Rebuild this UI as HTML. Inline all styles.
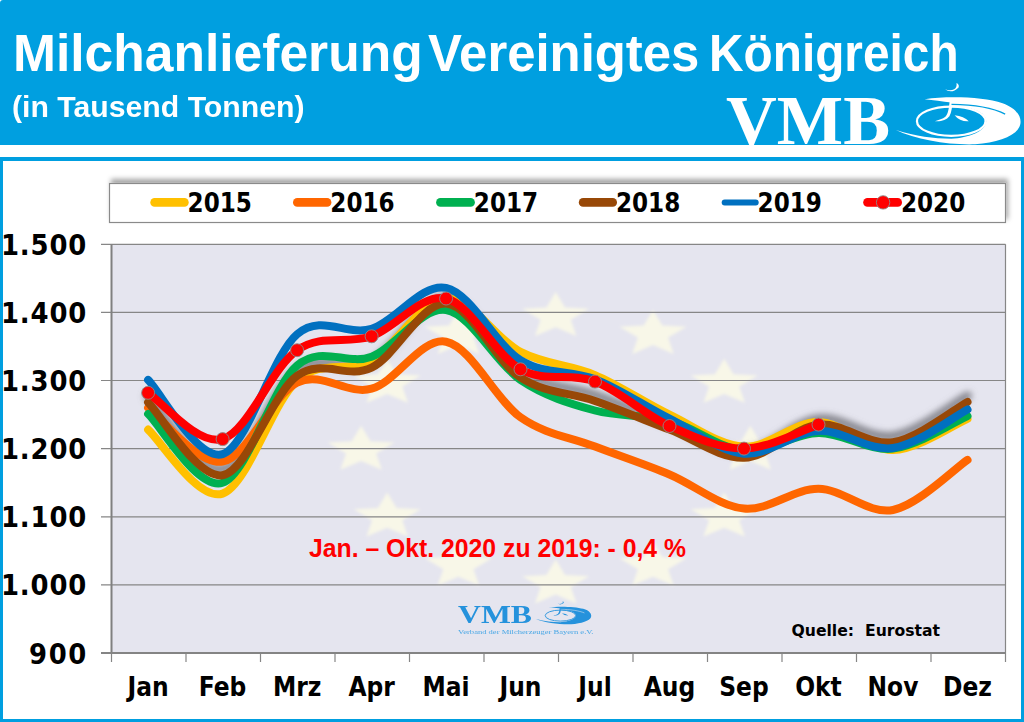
<!DOCTYPE html>
<html><head><meta charset="utf-8"><title>Milchanlieferung Vereinigtes Königreich</title>
<style>
html,body{margin:0;padding:0;}
body{width:1024px;height:722px;overflow:hidden;background:#fff;position:relative;font-family:"Liberation Sans",sans-serif;}
#hdr{position:absolute;left:0;top:0;width:1024px;height:145px;background:#009FE0;border-top-left-radius:3px;}
#t1{position:absolute;left:0;top:23.7px;width:1024px;height:70px;color:#fff;font:bold 51px "Liberation Sans",sans-serif;white-space:nowrap;}
.w{position:absolute;top:0;transform-origin:0 0;}
#t2{position:absolute;left:11.9px;top:91px;transform:scaleX(1.0415);color:#fff;font:bold 29px "Liberation Sans",sans-serif;white-space:nowrap;transform-origin:0 0;}
#vmb{position:absolute;left:726px;top:81.9px;transform:scaleX(1.019);color:#fff;font:bold 69px "Liberation Serif",serif;white-space:nowrap;transform-origin:0 0;}
#frame{position:absolute;left:0;top:157px;width:1018px;height:558px;border:3px solid #009FE0;border-top-width:4px;background:#fff;}
#vmb2{position:absolute;left:457.5px;top:600px;transform:scaleX(1.22);color:#2592DC;font:bold 26px "Liberation Serif",serif;white-space:nowrap;transform-origin:0 0;}
#vmb2s{position:absolute;left:458px;top:627.5px;transform:scaleX(1.22);transform-origin:0 0;color:#4AA8E6;font:7px "Liberation Serif",serif;white-space:nowrap;}
</style></head><body>
<div id="hdr"></div>
<div id="t1"><span class="w" style="left:12.6px;transform:scaleX(1.011)">Milchanlieferung</span> <span class="w" style="left:428.2px;transform:scaleX(0.997)">Vereinigtes</span> <span class="w" style="left:708.6px;transform:scaleX(0.937)">Königreich</span></div>
<div id="t2">(in Tausend Tonnen)</div>
<div id="vmb">VMB</div>
<svg style="position:absolute;left:0;top:0" width="1024" height="146" viewBox="0 0 1024 146">
<g transform="translate(890,78) scale(0.13086)" fill="#fff">
<path d="M420,86 Q470,124 524,72 Q532,50 508,38 Q514,72 490,86 Q460,100 420,86 Z"/>
<path d="M456,176 C450,230 446,272 423,296 C403,313 373,318 343,330 C385,336 432,320 454,292 C472,262 474,220 480,178 Z"/>
<path d="M494,284 Q565,290 602,330 Q533,334 494,284 Z"/>
<path d="M265,162 C450,136 720,146 860,192 C965,228 1012,300 994,360 C972,440 830,494 650,507 C450,514 200,472 45,398 C200,447 330,464 468,464 C600,458 735,405 735,330 C735,262 630,220 470,216 L470,187 C400,178 330,170 265,162 Z"/>
<path d="M470,202 C640,204 790,230 880,276" fill="none" stroke="#009FE0" stroke-width="10"/>
<ellipse cx="468" cy="330" rx="262" ry="112" fill="none" stroke="#fff" stroke-width="17"/>
</g></svg>

<div id="frame"></div>
<svg width="1024" height="722" viewBox="0 0 1024 722" style="position:absolute;left:0;top:0">
<defs>
<filter id="lsh" x="-5%" y="-50%" width="110%" height="200%"><feGaussianBlur in="SourceAlpha" stdDeviation="2.5"/><feOffset dx="2" dy="-4" result="b"/><feFlood flood-color="#000" flood-opacity="0.35"/><feComposite in2="b" operator="in"/><feMerge><feMergeNode/><feMergeNode in="SourceGraphic"/></feMerge></filter>
<filter id="sb"><feGaussianBlur stdDeviation="1.8"/></filter><filter id="sb2" x="-5%" y="-20%" width="110%" height="140%"><feGaussianBlur stdDeviation="3"/></filter></defs>
<rect x="111.5" y="244.3" width="894.0" height="408.7" fill="#E5E5EF"/>
<g fill="#F8F7E8" filter="url(#sb)">
<path d="M555.7,292.0 L565.0,307.5 L589.2,308.8 L570.8,319.7 L576.4,336.0 L555.7,327.2 L535.0,336.0 L540.6,319.7 L522.2,308.8 L546.4,307.5 Z"/>
<path d="M653.0,309.9 L662.3,325.4 L686.5,326.7 L668.1,337.6 L673.7,353.9 L653.0,345.1 L632.3,353.9 L637.9,337.6 L619.5,326.7 L643.7,325.4 Z"/>
<path d="M724.2,358.8 L733.5,374.3 L757.7,375.6 L739.3,386.5 L744.9,402.8 L724.2,394.1 L703.5,402.8 L709.1,386.5 L690.7,375.6 L714.9,374.3 Z"/>
<path d="M750.3,425.7 L759.6,441.2 L783.8,442.5 L765.4,453.4 L771.0,469.7 L750.3,460.9 L729.6,469.7 L735.2,453.4 L716.8,442.5 L741.0,441.2 Z"/>
<path d="M724.2,492.5 L733.5,508.0 L757.7,509.3 L739.3,520.2 L744.9,536.5 L724.2,527.8 L703.5,536.5 L709.1,520.2 L690.7,509.3 L714.9,508.0 Z"/>
<path d="M653.0,541.5 L662.3,556.9 L686.5,558.3 L668.1,569.2 L673.7,585.4 L653.0,576.7 L632.3,585.4 L637.9,569.2 L619.5,558.3 L643.7,556.9 Z"/>
<path d="M555.7,559.4 L565.0,574.9 L589.2,576.2 L570.8,587.1 L576.4,603.4 L555.7,594.6 L535.0,603.4 L540.6,587.1 L522.2,576.2 L546.4,574.9 Z"/>
<path d="M458.4,541.5 L467.7,556.9 L491.9,558.3 L473.5,569.2 L479.1,585.4 L458.4,576.7 L437.7,585.4 L443.3,569.2 L424.9,558.3 L449.1,556.9 Z"/>
<path d="M387.2,492.6 L396.5,508.0 L420.7,509.3 L402.3,520.2 L407.9,536.5 L387.2,527.8 L366.5,536.5 L372.1,520.2 L353.7,509.3 L377.9,508.0 Z"/>
<path d="M361.1,425.7 L370.4,441.2 L394.6,442.5 L376.2,453.4 L381.8,469.7 L361.1,460.9 L340.4,469.7 L346.0,453.4 L327.6,442.5 L351.8,441.2 Z"/>
<path d="M387.2,358.9 L396.5,374.3 L420.7,375.6 L402.3,386.5 L407.9,402.8 L387.2,394.1 L366.5,402.8 L372.1,386.5 L353.7,375.6 L377.9,374.3 Z"/>
<path d="M458.4,309.9 L467.7,325.4 L491.9,326.7 L473.5,337.6 L479.1,353.9 L458.4,345.1 L437.7,353.9 L443.3,337.6 L424.9,326.7 L449.1,325.4 Z"/>
</g>
<g stroke="#868686" stroke-width="1.2">
<line x1="101" y1="653.0" x2="1005.5" y2="653.0"/>
<line x1="101" y1="584.9" x2="1005.5" y2="584.9"/>
<line x1="101" y1="516.8" x2="1005.5" y2="516.8"/>
<line x1="101" y1="448.6" x2="1005.5" y2="448.6"/>
<line x1="101" y1="380.5" x2="1005.5" y2="380.5"/>
<line x1="101" y1="312.4" x2="1005.5" y2="312.4"/>
<line x1="101" y1="244.3" x2="1005.5" y2="244.3"/>
<line x1="1005.5" y1="244.3" x2="1005.5" y2="653.0"/>
</g>
<g stroke="#868686" stroke-width="1.2">
<line x1="111.5" y1="653.0" x2="111.5" y2="662.0"/>
<line x1="186.0" y1="653.0" x2="186.0" y2="662.0"/>
<line x1="260.5" y1="653.0" x2="260.5" y2="662.0"/>
<line x1="335.0" y1="653.0" x2="335.0" y2="662.0"/>
<line x1="409.5" y1="653.0" x2="409.5" y2="662.0"/>
<line x1="484.0" y1="653.0" x2="484.0" y2="662.0"/>
<line x1="558.5" y1="653.0" x2="558.5" y2="662.0"/>
<line x1="633.0" y1="653.0" x2="633.0" y2="662.0"/>
<line x1="707.5" y1="653.0" x2="707.5" y2="662.0"/>
<line x1="782.0" y1="653.0" x2="782.0" y2="662.0"/>
<line x1="856.5" y1="653.0" x2="856.5" y2="662.0"/>
<line x1="931.0" y1="653.0" x2="931.0" y2="662.0"/>
<line x1="1005.5" y1="653.0" x2="1005.5" y2="662.0"/>
</g>
<line x1="111.5" y1="244.3" x2="111.5" y2="654.0" stroke="#808080" stroke-width="2"/>
<line x1="101" y1="653.0" x2="1005.5" y2="653.0" stroke="#848484" stroke-width="2"/>
<path d="M148.1,402.3 C160.5,414.5 197.7,479.6 222.6,475.2 C247.4,470.8 272.2,393.7 297.1,375.8 C321.9,357.8 346.7,379.6 371.6,367.6 C396.4,355.6 421.2,301.9 446.1,303.6 C470.9,305.2 495.7,361.2 520.5,377.5 C545.4,393.7 570.2,392.3 595.0,401.0 C619.9,409.7 644.7,420.1 669.5,429.6 C694.4,439.0 719.2,458.6 744.0,457.8 C768.9,457.0 793.7,427.4 818.5,424.8 C843.4,422.2 868.2,446.0 893.0,442.2 C917.9,438.4 955.1,408.6 967.5,401.9" fill="none" stroke="#707078" stroke-opacity="0.8" stroke-width="9" stroke-linecap="round" transform="translate(0,-6)" filter="url(#sb2)"/>
<path d="M148.1,429.6 C160.5,440.2 197.7,501.8 222.6,493.6 C247.4,485.4 272.2,402.8 297.1,380.5 C321.9,358.3 346.7,373.8 371.6,360.1 C396.4,346.4 421.2,299.5 446.1,298.1 C470.9,296.7 495.7,339.1 520.5,351.9 C545.4,364.8 570.2,364.6 595.0,375.1 C619.9,385.5 644.7,402.7 669.5,414.6 C694.4,426.5 719.2,445.4 744.0,446.6 C768.9,447.9 793.7,421.5 818.5,422.1 C843.4,422.7 868.2,450.6 893.0,450.0 C917.9,449.4 955.1,423.9 967.5,418.7" fill="none" stroke="#FFC000" stroke-width="8" stroke-linecap="round" stroke-linejoin="round"/>
<path d="M148.1,407.8 C160.5,416.7 197.7,465.8 222.6,461.6 C247.4,457.4 272.2,394.7 297.1,382.6 C321.9,370.4 346.7,395.5 371.6,388.7 C396.4,381.9 421.2,336.9 446.1,341.7 C470.9,346.5 495.7,399.8 520.5,417.3 C545.4,434.8 570.2,437.1 595.0,446.6 C619.9,456.1 644.7,464.2 669.5,474.5 C694.4,484.9 719.2,506.2 744.0,508.6 C768.9,511.0 793.7,488.6 818.5,488.8 C843.4,489.1 868.2,514.8 893.0,510.0 C917.9,505.1 955.1,468.2 967.5,459.9" fill="none" stroke="#FF6600" stroke-width="8" stroke-linecap="round" stroke-linejoin="round"/>
<path d="M148.1,413.9 C160.5,425.4 197.7,490.8 222.6,482.7 C247.4,474.6 272.2,386.6 297.1,365.5 C321.9,344.5 346.7,365.9 371.6,356.7 C396.4,347.4 421.2,306.2 446.1,310.0 C470.9,313.9 495.7,363.1 520.5,379.9 C545.4,396.6 570.2,403.7 595.0,410.5 C619.9,417.3 644.7,414.0 669.5,420.7 C694.4,427.4 719.2,448.6 744.0,450.7 C768.9,452.7 793.7,433.3 818.5,433.0 C843.4,432.6 868.2,451.5 893.0,448.6 C917.9,445.8 955.1,421.4 967.5,416.0" fill="none" stroke="#00B050" stroke-width="8" stroke-linecap="round" stroke-linejoin="round"/>
<path d="M148.1,402.3 C160.5,414.5 197.7,479.6 222.6,475.2 C247.4,470.8 272.2,393.7 297.1,375.8 C321.9,357.8 346.7,379.6 371.6,367.6 C396.4,355.6 421.2,301.9 446.1,303.6 C470.9,305.2 495.7,361.2 520.5,377.5 C545.4,393.7 570.2,392.3 595.0,401.0 C619.9,409.7 644.7,420.1 669.5,429.6 C694.4,439.0 719.2,458.6 744.0,457.8 C768.9,457.0 793.7,427.4 818.5,424.8 C843.4,422.2 868.2,446.0 893.0,442.2 C917.9,438.4 955.1,408.6 967.5,401.9" fill="none" stroke="#984807" stroke-width="8" stroke-linecap="round" stroke-linejoin="round"/>
<path d="M148.1,379.9 C160.5,392.2 197.7,461.7 222.6,454.1 C247.4,446.5 272.2,355.1 297.1,334.2 C321.9,313.3 346.7,336.5 371.6,328.8 C396.4,321.0 421.2,282.7 446.1,287.9 C470.9,293.1 495.7,344.9 520.5,360.1 C545.4,375.3 570.2,369.4 595.0,379.2 C619.9,388.9 644.7,406.3 669.5,418.7 C694.4,431.1 719.2,451.6 744.0,453.7 C768.9,455.7 793.7,431.9 818.5,430.9 C843.4,430.0 868.2,451.5 893.0,448.0 C917.9,444.4 955.1,415.9 967.5,409.5" fill="none" stroke="#0070C0" stroke-width="8" stroke-linecap="round" stroke-linejoin="round"/>
<path d="M148.1,392.8 C160.5,400.5 197.7,446.2 222.6,439.1 C247.4,432.0 272.2,367.4 297.1,350.2 C321.9,333.1 346.7,344.9 371.6,336.3 C396.4,327.6 421.2,292.9 446.1,298.5 C470.9,304.0 495.7,355.4 520.5,369.3 C545.4,383.1 570.2,372.1 595.0,381.6 C619.9,391.0 644.7,414.8 669.5,426.0 C694.4,437.1 719.2,448.9 744.0,448.6 C768.9,448.4 806.1,428.6 818.5,424.6" fill="none" stroke="#FF0000" stroke-width="8" stroke-linecap="round" stroke-linejoin="round"/>
<circle cx="148.1" cy="392.8" r="6.5" fill="#FF0000" stroke="#8A8A8A" stroke-width="0.9"/>
<circle cx="222.6" cy="439.1" r="6.5" fill="#FF0000" stroke="#8A8A8A" stroke-width="0.9"/>
<circle cx="297.1" cy="350.2" r="6.5" fill="#FF0000" stroke="#8A8A8A" stroke-width="0.9"/>
<circle cx="371.6" cy="336.3" r="6.5" fill="#FF0000" stroke="#8A8A8A" stroke-width="0.9"/>
<circle cx="446.1" cy="298.5" r="6.5" fill="#FF0000" stroke="#8A8A8A" stroke-width="0.9"/>
<circle cx="520.5" cy="369.3" r="6.5" fill="#FF0000" stroke="#8A8A8A" stroke-width="0.9"/>
<circle cx="595.0" cy="381.6" r="6.5" fill="#FF0000" stroke="#8A8A8A" stroke-width="0.9"/>
<circle cx="669.5" cy="426.0" r="6.5" fill="#FF0000" stroke="#8A8A8A" stroke-width="0.9"/>
<circle cx="744.0" cy="448.6" r="6.5" fill="#FF0000" stroke="#8A8A8A" stroke-width="0.9"/>
<circle cx="818.5" cy="424.6" r="6.5" fill="#FF0000" stroke="#8A8A8A" stroke-width="0.9"/>
<g font-family="DejaVu Sans" font-stretch="condensed" font-weight="bold" font-size="28.8" fill="#000" text-anchor="end">
<text x="86.4" y="663.5" textLength="57.4" lengthAdjust="spacing">900</text>
<text x="86.4" y="595.4" textLength="85.5" lengthAdjust="spacing">1.000</text>
<text x="86.4" y="527.3" textLength="85.5" lengthAdjust="spacing">1.100</text>
<text x="86.4" y="459.1" textLength="85.5" lengthAdjust="spacing">1.200</text>
<text x="86.4" y="391.0" textLength="85.5" lengthAdjust="spacing">1.300</text>
<text x="86.4" y="322.9" textLength="85.5" lengthAdjust="spacing">1.400</text>
<text x="86.4" y="254.8" textLength="85.5" lengthAdjust="spacing">1.500</text>
</g>
<g font-family="DejaVu Sans" font-stretch="condensed" font-weight="bold" font-size="26" fill="#000" text-anchor="middle">
<text x="148.1" y="695.5">Jan</text>
<text x="222.6" y="695.5">Feb</text>
<text x="297.1" y="695.5">Mrz</text>
<text x="371.6" y="695.5">Apr</text>
<text x="446.1" y="695.5">Mai</text>
<text x="520.5" y="695.5">Jun</text>
<text x="595.0" y="695.5">Jul</text>
<text x="669.5" y="695.5">Aug</text>
<text x="744.0" y="695.5">Sep</text>
<text x="818.5" y="695.5">Okt</text>
<text x="893.0" y="695.5">Nov</text>
<text x="967.5" y="695.5">Dez</text>
</g>
<rect x="109.5" y="183.5" width="896" height="39" fill="#fff" stroke="#8a8a8a" stroke-width="1.2" filter="url(#lsh)"/>
<g font-family="DejaVu Sans" font-stretch="condensed" font-weight="bold" font-size="25.7" fill="#000">
<line x1="154.6" y1="202.4" x2="184.4" y2="202.4" stroke="#FFC000" stroke-width="8.6" stroke-linecap="round"/>
<text x="187.6" y="211.5">2015</text>
<line x1="297.3" y1="202.4" x2="327.1" y2="202.4" stroke="#FF6600" stroke-width="8.6" stroke-linecap="round"/>
<text x="330.3" y="211.5">2016</text>
<line x1="440.4" y1="202.4" x2="470.6" y2="202.4" stroke="#00B050" stroke-width="8.6" stroke-linecap="round"/>
<text x="473.8" y="211.5">2017</text>
<line x1="583.1" y1="202.4" x2="612.7" y2="202.4" stroke="#984807" stroke-width="8.6" stroke-linecap="round"/>
<text x="615.9" y="211.5">2018</text>
<line x1="724.7" y1="202.4" x2="755.7" y2="202.4" stroke="#0070C0" stroke-width="6.0" stroke-linecap="round"/>
<text x="757.6" y="211.5">2019</text>
<line x1="867.5" y1="202.4" x2="897.7" y2="202.4" stroke="#FF0000" stroke-width="8.6" stroke-linecap="round"/>
<circle cx="883.1" cy="202.4" r="6.7" fill="#FF0000" stroke="#8A8A8A" stroke-width="0.9"/>
<text x="900.9" y="211.5">2020</text>
</g>
<text x="309" y="557" font-family="Liberation Sans" font-weight="bold" font-size="25.5" fill="#FF0000" textLength="377" lengthAdjust="spacingAndGlyphs">Jan. – Okt. 2020 zu 2019: - 0,4 %</text>
<text x="791.5" y="635.5" font-family="DejaVu Sans" font-stretch="condensed" font-weight="bold" font-size="15.5" fill="#000" textLength="148.5" lengthAdjust="spacingAndGlyphs">Quelle:&#160; Eurostat</text>
</svg>
<svg style="position:absolute;left:0;top:0" width="1024" height="722" viewBox="0 0 1024 722">
<g transform="translate(533.2,599.4) scale(0.0582,0.0491)" fill="#2592DC">
<path d="M420,86 Q470,124 524,72 Q532,50 508,38 Q514,72 490,86 Q460,100 420,86 Z"/>
<path d="M456,176 C450,230 446,272 423,296 C403,313 373,318 343,330 C385,336 432,320 454,292 C472,262 474,220 480,178 Z"/>
<path d="M494,284 Q565,290 602,330 Q533,334 494,284 Z"/>
<path d="M265,162 C450,136 720,146 860,192 C965,228 1012,300 994,360 C972,440 830,494 650,507 C450,514 200,472 45,398 C200,447 330,464 468,464 C600,458 735,405 735,330 C735,262 630,220 470,216 L470,187 C400,178 330,170 265,162 Z"/>
<path d="M470,202 C640,204 790,230 880,276" fill="none" stroke="#E5E5EF" stroke-width="10"/>
<ellipse cx="468" cy="330" rx="262" ry="112" fill="none" stroke="#2592DC" stroke-width="17"/>
</g></svg>
<div id="vmb2">VMB</div>
<div id="vmb2s">Verband der Milcherzeuger Bayern e.V.</div>
</body></html>
